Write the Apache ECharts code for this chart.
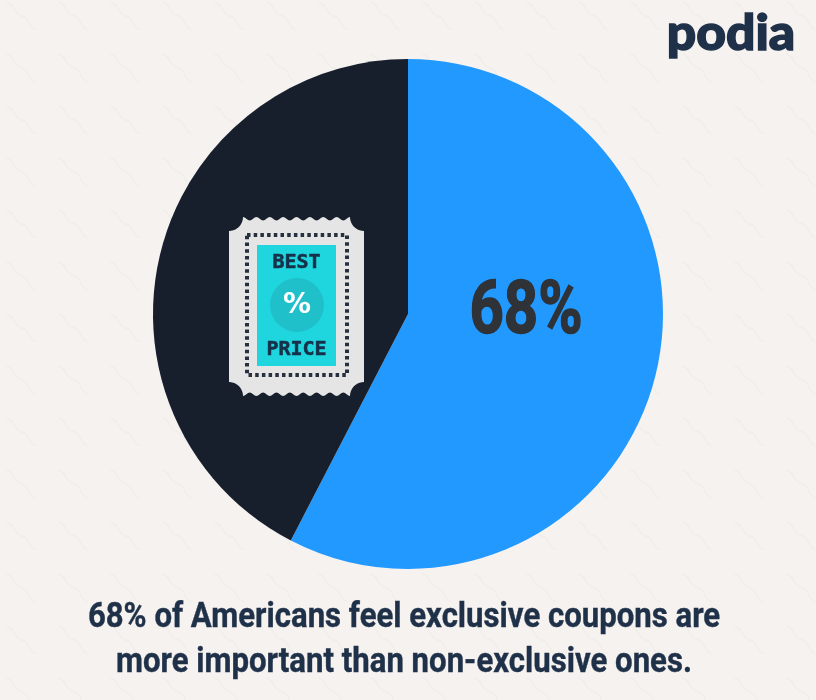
<!DOCTYPE html>
<html>
<head>
<meta charset="utf-8">
<title>podia coupons</title>
<script src="https://cdn.jsdelivr.net/npm/echarts@6/dist/echarts.min.js"></script>
<style>
  html, body { margin: 0; padding: 0; background: #f6f2f0; }
  #chart { width: 816px; height: 700px; }
</style>
</head>
<body>
<div id="chart"></div>
<script>
// slice sizes as drawn in the picture (the blue one is printed as 68%)
var categories = ['Exclusive', 'Non-exclusive']
var sliceValues = [57.6, 42.4]
var sliceColors = ['#2299ff', '#161f2b']
var bigLabel = '68%'
var captionLines = [
  '68% of Americans feel exclusive coupons are',
  'more important than non-exclusive ones.'
]
var logoText = 'podia'
var ticketWords = ['BEST', '%', 'PRICE']

var INK = '#1f3149'

// faint wavy paper texture
function makeTile() {
  var c = document.createElement('canvas')
  c.width = 52
  c.height = 52
  var ctx = c.getContext('2d')
  ctx.fillStyle = '#f6f2f0'
  ctx.fillRect(0, 0, 52, 52)
  ctx.lineWidth = 1.4
  ctx.strokeStyle = '#f1edea'
  ctx.beginPath()
  ctx.moveTo(6, 2)
  ctx.bezierCurveTo(16, 4, 12, 14, 22, 16)
  ctx.bezierCurveTo(30, 18, 28, 28, 36, 30)
  ctx.stroke()
  return c
}

// ticket outline with scalloped top/bottom and round bitten corners
function ticketPoints(l, t, r, b, bite) {
  var pts = []
  var n = 8
  var step = (r - l - 2 * bite) / n
  function arc(cx, cy, fromDeg) {
    for (var j = 0; j <= 10; j++) {
      var a = (fromDeg - j * 9) * Math.PI / 180
      pts.push([cx + bite * Math.cos(a), cy + bite * Math.sin(a)])
    }
  }
  function scallops(fromX, dir, y, depth) {
    for (var i = 0; i < n; i++) {
      for (var j = 0; j < 8; j++) {
        pts.push([fromX + dir * step * (i + j / 8), y + depth * (1 - Math.cos(2 * Math.PI * j / 8)) / 2])
      }
    }
  }
  arc(l, t, 90)
  scallops(l + bite, 1, t, 3.5)
  arc(r, t, 180)
  arc(r, b, 270)
  scallops(r - bite, -1, b, -3.5)
  arc(l, b, 0)
  return pts
}

function squeezedText(text, x, y, size, scale, color, weight, family, thicken) {
  return {
    type: 'text',
    x: x,
    y: y,
    z: 10,
    scaleX: scale,
    silent: true,
    style: {
      text: text,
      x: 0,
      y: 0,
      align: 'center',
      verticalAlign: 'middle',
      fill: color,
      stroke: thicken ? color : null,
      lineWidth: thicken || 0,
      fontFamily: family || 'Roboto',
      fontWeight: weight || 700,
      fontSize: size
    }
  }
}

var chart = echarts.init(document.getElementById('chart'), null, { renderer: 'canvas' })

chart.setOption({
  animation: false,
  backgroundColor: { image: makeTile(), repeat: 'repeat' },
  series: [
    {
      type: 'pie',
      center: [408, 314],
      radius: [0, 255],
      startAngle: 90,
      silent: true,
      label: { show: false },
      labelLine: { show: false },
      data: categories.map(function (name, i) {
        return { name: name, value: sliceValues[i], itemStyle: { color: sliceColors[i] } }
      })
    }
  ],
  graphic: [
    {
      type: 'polygon',
      silent: true,
      z: 10,
      shape: { points: ticketPoints(229, 217, 364, 396, 14) },
      style: { fill: '#e5e5e5' }
    },
    {
      type: 'rect',
      silent: true,
      z: 10,
      shape: { x: 247, y: 235, width: 100, height: 140 },
      style: { fill: 'none', stroke: '#27303f', lineWidth: 4, lineDash: [3.5, 3.2] }
    },
    {
      type: 'rect',
      silent: true,
      z: 10,
      shape: { x: 257, y: 245, width: 79, height: 121 },
      style: { fill: '#1fd5de' }
    },
    {
      type: 'circle',
      silent: true,
      z: 10,
      shape: { cx: 297, cy: 305, r: 27 },
      style: { fill: '#1fc0ca' }
    },
    squeezedText(ticketWords[0], 296.5, 263, 20, 1, '#16304a', 700, 'DejaVu Sans Mono', 0.5),
    squeezedText(ticketWords[1], 297, 306, 28, 1, '#ffffff', 700, 'DejaVu Sans'),
    squeezedText(ticketWords[2], 296.5, 350, 20, 1, '#16304a', 700, 'DejaVu Sans Mono', 0.5),
    squeezedText(bigLabel, 526, 314, 75, 0.8, '#2f3338', 700, 'Roboto', 1.5),
    squeezedText(captionLines[0], 404, 618, 35, 0.89, INK, 700, 'Roboto', 0.4),
    squeezedText(captionLines[1], 404, 663, 35, 0.89, INK, 700, 'Roboto', 0.4),
    squeezedText(logoText, 731, 34, 50, 1.03, INK, 900, 'Lato', 1.5)
  ]
})
</script>
</body>
</html>
